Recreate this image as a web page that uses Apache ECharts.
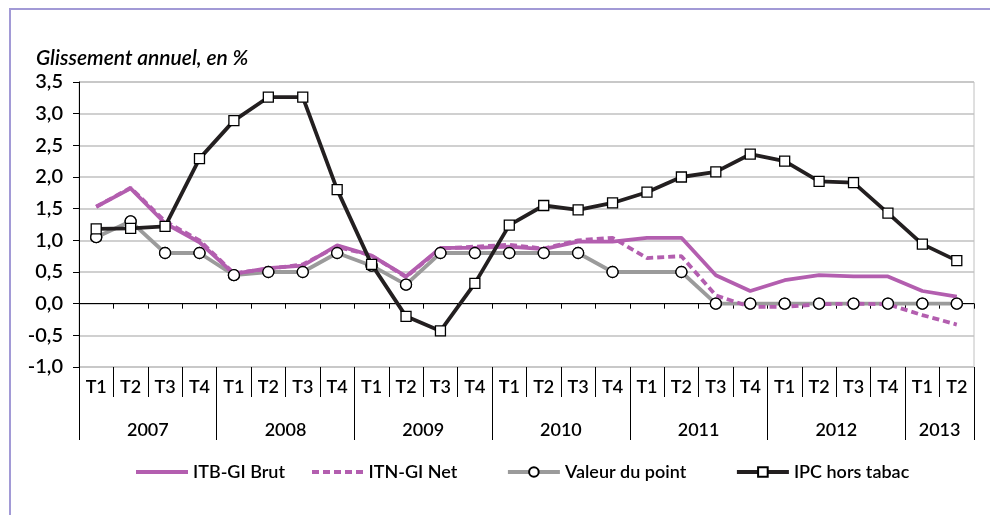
<!DOCTYPE html>
<html>
<head>
<meta charset="utf-8">
<script src="https://cdn.jsdelivr.net/npm/echarts@6/dist/echarts.min.js"></script>
<style>
html,body{margin:0;padding:0;background:#fff;}
#chart{width:990px;height:515px;}
</style>
</head>
<body>
<div id="chart"></div>
<script>
// ---- data ----
const quarters = ['T1','T2','T3','T4','T1','T2','T3','T4','T1','T2','T3','T4','T1','T2','T3','T4','T1','T2','T3','T4','T1','T2','T3','T4','T1','T2'];
const years = ['2007','2008','2009','2010','2011','2012','2013'];
const yearSpans = [4,4,4,4,4,4,2];
const itbBrut = [1.53,1.82,1.27,0.97,0.47,0.56,0.60,0.92,0.76,0.43,0.88,0.88,0.90,0.86,0.98,0.98,1.04,1.04,0.45,0.20,0.37,0.45,0.43,0.43,0.20,0.11];
const itnNet  = [1.53,1.83,1.30,1.00,0.48,0.55,0.62,0.90,0.76,0.42,0.87,0.90,0.93,0.87,1.00,1.04,0.72,0.75,0.13,-0.05,-0.05,-0.01,0.00,-0.01,-0.18,-0.33];
const valeurPoint = [1.05,1.30,0.80,0.80,0.45,0.50,0.50,0.80,0.60,0.30,0.80,0.80,0.80,0.80,0.80,0.50,0.50,0.50,0,0,0,0,0,0,0,0];
const ipcHorsTabac = [1.18,1.19,1.22,2.29,2.89,3.26,3.26,1.80,0.62,-0.20,-0.43,0.32,1.24,1.55,1.48,1.59,1.76,2.00,2.08,2.36,2.25,1.93,1.91,1.43,0.94,0.68];
const valeurNoMarker = [16];
const seriesNames = ['ITB-GI Brut','ITN-GI Net','Valeur du point','IPC hors tabac'];
const yMin = -1, yMax = 3.5, yStep = 0.5;
const title = 'Glissement annuel, en %';

// ---- derived: year boundary axis ----
const boundaryCats = [];
const yearStartIdx = [];
const yearMidLabel = {};
let acc = 0;
years.forEach((y, i) => { yearStartIdx.push(acc); yearMidLabel[acc + yearSpans[i] / 2] = y; acc += yearSpans[i]; });
yearStartIdx.push(acc);
for (let b = 0; b <= acc; b++) boundaryCats.push(yearMidLabel[b] || '');

const FONT = 'Lato';
const FW = 600;
const PURPLE = '#b35eaf';
const GREY = '#9b9b9b';
const BLACK = '#231f20';
const LW = 3.8;

// legend icons (52 x 4 units)
const solidIcon = 'path://M0,0h52v4h-52z';
let dashPath = 'path://';
for (let x = 0; x < 52; x += 11) dashPath += 'M' + x + ',0h' + Math.min(7, 52 - x) + 'v4h-' + Math.min(7, 52 - x) + 'z';

const chart = echarts.init(document.getElementById('chart'), null, {renderer: 'canvas'});

const valeurData = valeurPoint.map((v, i) => valeurNoMarker.includes(i) ? {value: v, symbol: 'none'} : v);

const legendText = {fontFamily: FONT, fontWeight: FW, fontSize: 18, color: '#000'};
const option = {
  backgroundColor: '#fff',
  animation: false,
  textStyle: {fontFamily: FONT},
  title: {
    text: title, left: 31, top: 43,
    textStyle: {fontFamily: FONT, fontStyle: 'italic', fontWeight: FW, fontSize: 21, color: '#000'}
  },
  graphic: [{
    type: 'rect', silent: true, z: -1,
    shape: {x: 10, y: 9, width: 1000, height: 520},
    style: {fill: 'none', stroke: '#a29ad6', lineWidth: 2}
  }],
  grid: {left: 79, right: 16, top: 82, bottom: 148, show: true, borderColor: '#c0c0c0', borderWidth: 1, backgroundColor: 'transparent'},
  legend: [
    {data: [{name: seriesNames[0], icon: solidIcon}], left: 136, top: 463, itemHeight: 4, itemWidth: 52},
    {data: [{name: seriesNames[1], icon: dashPath}], left: 312, top: 463, itemHeight: 4, itemWidth: 52},
    {data: [seriesNames[2]], left: 506, top: 463, itemWidth: 52, itemHeight: 12,
      lineStyle: {width: LW, color: GREY}},
    {data: [seriesNames[3]], left: 735, top: 463, itemWidth: 52, itemHeight: 12,
      lineStyle: {width: LW, color: BLACK}}
  ].map(l => Object.assign(l, {padding: 0, textStyle: legendText})),
  xAxis: [
    {
      type: 'category', data: quarters, position: 'bottom',
      axisLine: {onZero: true, lineStyle: {color: '#000', width: 1}},
      axisTick: {show: true, length: 5, lineStyle: {color: '#000'}},
      axisLabel: {show: false}, splitLine: {show: false}
    },
    {
      type: 'category', data: quarters, position: 'bottom',
      axisLine: {show: false, onZero: false},
      axisTick: {show: true, length: 30, interval: 0, lineStyle: {color: '#000'}},
      axisLabel: {show: true, interval: 0, margin: 11, fontFamily: FONT, fontWeight: FW, fontSize: 18, color: '#000'},
      splitLine: {show: false}
    },
    {
      type: 'category', data: boundaryCats, boundaryGap: false, position: 'bottom',
      axisLine: {show: false, onZero: false},
      axisTick: {show: true, length: 73, lineStyle: {color: '#000'},
        interval: (idx) => yearStartIdx.includes(idx)},
      axisLabel: {show: true, margin: 54, fontFamily: FONT, fontWeight: FW, fontSize: 18, color: '#000',
        interval: (idx, val) => val !== ''},
      splitLine: {show: false}
    }
  ],
  yAxis: {
    type: 'value', min: yMin, max: yMax, interval: yStep,
    axisLine: {show: true, lineStyle: {color: '#000', width: 1}},
    axisTick: {show: true, length: 6, lineStyle: {color: '#000'}},
    axisLabel: {margin: 16, fontFamily: FONT, fontWeight: FW, fontSize: 20, color: '#000',
      formatter: v => v.toFixed(1).replace('.', ',')},
    splitLine: {show: true, lineStyle: {color: '#c0c0c0', width: 1.5}}
  },
  series: [
    {
      name: seriesNames[2], type: 'line', data: valeurData, z: 2,
      symbol: 'circle', symbolSize: 11,
      lineStyle: {color: GREY, width: LW},
      itemStyle: {color: '#fff', borderColor: '#000', borderWidth: 1.3},
      color: GREY
    },
    {
      name: seriesNames[0], type: 'line', data: itbBrut, z: 3,
      symbol: 'none', lineStyle: {color: PURPLE, width: LW}, itemStyle: {color: PURPLE}, color: PURPLE
    },
    {
      name: seriesNames[1], type: 'line', data: itnNet, z: 4,
      symbol: 'none', lineStyle: {color: PURPLE, width: LW, type: [7, 4]}, itemStyle: {color: PURPLE}, color: PURPLE
    },
    {
      type: 'line', data: valeurData, z: 5, silent: true,
      symbol: 'circle', symbolSize: 11,
      lineStyle: {width: 0, opacity: 0},
      itemStyle: {color: '#fff', borderColor: '#000', borderWidth: 1.3}
    },
    {
      name: seriesNames[3], type: 'line', data: ipcHorsTabac, z: 6,
      symbol: 'rect', symbolSize: 10,
      lineStyle: {color: BLACK, width: LW},
      itemStyle: {color: '#fff', borderColor: '#000', borderWidth: 1.3},
      color: BLACK
    }
  ]
};
chart.setOption(option);
</script>
</body>
</html>
